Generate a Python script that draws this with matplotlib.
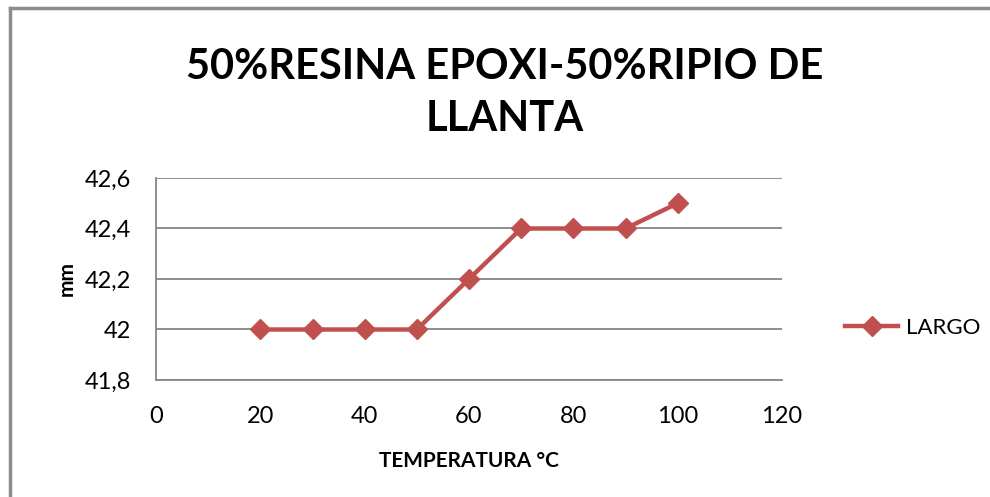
import matplotlib.pyplot as plt
from matplotlib.lines import Line2D
from matplotlib.ticker import FuncFormatter

# Dimensional data: length versus temperature
temperatura = [20, 30, 40, 50, 60, 70, 80, 90, 100]
largo = [42.0, 42.0, 42.0, 42.0, 42.2, 42.4, 42.4, 42.4, 42.5]

TITLE = "50%RESINA EPOXI-50%RIPIO DE\nLLANTA"
SERIES_NAME = "LARGO"
LINE_COLOR = "#C0504D"
GRID_COLOR = "#868686"

plt.rcParams["font.family"] = ["Lato", "DejaVu Sans"]


def comma_decimal(value, pos):
    text = f"{value:.1f}".rstrip("0").rstrip(".")
    return text.replace(".", ",")


fig = plt.figure(figsize=(9.9, 4.97), dpi=100)
ax = fig.add_axes([156 / 990, 1 - 380 / 497, (782 - 156) / 990, (380 - 178) / 497])

ax.plot(temperatura, largo, color=LINE_COLOR, linewidth=3.2,
        marker="D", markersize=10, markeredgecolor=LINE_COLOR,
        markerfacecolor=LINE_COLOR, label=SERIES_NAME, zorder=3)

ax.set_xlim(0, 120)
ax.set_ylim(41.8, 42.6)
ax.set_xticks(range(0, 121, 20))
ax.set_yticks([41.8, 42.0, 42.2, 42.4, 42.6])
ax.yaxis.set_major_formatter(FuncFormatter(comma_decimal))
ax.tick_params(length=0, labelsize=17)
ax.tick_params(axis="x", pad=19)
ax.tick_params(axis="y", pad=18)

ax.grid(axis="y", color=GRID_COLOR, linewidth=1.3)
ax.set_axisbelow(True)
for side in ["top", "right"]:
    ax.spines[side].set_visible(False)
for side in ["left", "bottom"]:
    ax.spines[side].set_color(GRID_COLOR)
    ax.spines[side].set_linewidth(1.3)

ax.set_xlabel("TEMPERATURA °C", fontsize=15, fontweight="bold", labelpad=17)
ax.set_ylabel("mm", fontsize=15, fontweight="bold", labelpad=6)

fig.text(0.51, 1 - 93 / 497, TITLE, ha="center", va="center",
         fontsize=30, fontweight="bold", linespacing=1.45)

# Legend placed at the right of the plot area
handle = Line2D([], [], color=LINE_COLOR, linewidth=3.2, marker="D",
                markersize=10, markerfacecolor=LINE_COLOR)
fig.legend([handle], [SERIES_NAME], loc="center left",
           bbox_to_anchor=(845 / 990, 1 - 328 / 497), frameon=False,
           fontsize=16, handlelength=2.4, handletextpad=0.35,
           borderpad=0, borderaxespad=0)

# Chart frame cropped on the right and bottom
fig.add_artist(Line2D([9.5 / 990, 9.5 / 990], [0, 1 - 7.5 / 497],
                      color="#8C8C8C", linewidth=2.5))
fig.add_artist(Line2D([9.5 / 990, 1], [1 - 7.5 / 497, 1 - 7.5 / 497],
                      color="#8C8C8C", linewidth=2.5))

fig.savefig("out.png", dpi=100)
